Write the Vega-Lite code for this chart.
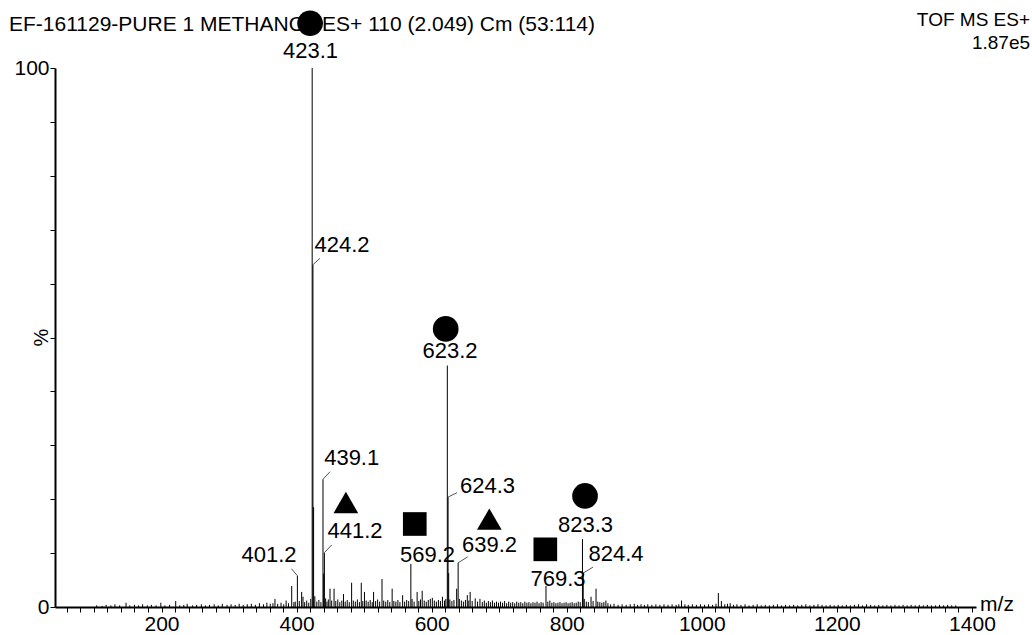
{
  "$schema": "https://vega.github.io/schema/vega-lite/v6.json",
  "width": 921,
  "height": 539,
  "autosize": {"type": "none"},
  "padding": {"left": 55, "top": 68, "right": 56, "bottom": 28},
  "background": "white",
  "config": {"view": {"stroke": null}, "font": "Liberation Sans"},
  "datasets": {
    "peaks": [
      {"x":104,"y":0.3},{"x":112,"y":0.2},{"x":118,"y":0.4},{"x":125,"y":0.3},{"x":131,"y":0.5},{"x":138,"y":0.3},{"x":147.5,"y":0.8},{"x":153,"y":0.3},{"x":160,"y":0.4},{"x":166,"y":0.3},{"x":172,"y":0.5},{"x":179,"y":0.3},{"x":185,"y":0.4},{"x":192,"y":0.3},{"x":199,"y":0.8},{"x":205,"y":0.3},{"x":212,"y":0.4},{"x":221,"y":1.1},{"x":227,"y":0.3},{"x":233,"y":0.4},{"x":238,"y":0.6},{"x":246,"y":0.3},{"x":252,"y":0.4},{"x":259,"y":0.5},{"x":265,"y":0.3},{"x":271,"y":0.4},{"x":278,"y":0.5},{"x":284,"y":0.3},{"x":290,"y":0.6},{"x":297,"y":0.4},{"x":303,"y":0.5},{"x":309,"y":0.4},{"x":315,"y":0.6},{"x":321,"y":0.4},{"x":327,"y":0.5},{"x":333,"y":0.6},{"x":339,"y":0.4},{"x":345,"y":0.7},{"x":351,"y":0.5},{"x":356,"y":0.8},{"x":361,"y":0.6},{"x":365,"y":0.7},
      {"x":368,"y":1.5},{"x":372,"y":0.6},{"x":377,"y":0.8},{"x":381,"y":0.5},{"x":384.5,"y":1.2},{"x":388,"y":0.7},{"x":392.8,"y":3.9},{"x":396,"y":0.9},{"x":398,"y":1.0},{"x":401.2,"y":5.8},{"x":404,"y":1.1},{"x":407.5,"y":2.8},{"x":409.5,"y":1.9},{"x":412,"y":0.9},{"x":415,"y":1.2},{"x":418,"y":0.8},{"x":421,"y":1.5},{"x":423.1,"y":100},{"x":424.2,"y":63.5},{"x":425.2,"y":18.5},{"x":427,"y":2.0},{"x":430,"y":1.0},{"x":433,"y":1.3},{"x":436,"y":0.9},{"x":439.1,"y":23.7},{"x":440.1,"y":6.2},{"x":441.2,"y":10.1},{"x":443,"y":1.6},{"x":445,"y":1.0},{"x":447,"y":1.4},{"x":449.5,"y":3.4},{"x":452,"y":1.2},{"x":455.5,"y":3.4},{"x":458,"y":1.1},{"x":461,"y":1.4},{"x":464,"y":0.9},{"x":467,"y":1.2},{"x":469.5,"y":2.4},{"x":472,"y":1.0},{"x":475,"y":1.3},{"x":478,"y":0.9},{"x":481.5,"y":4.5},{"x":484,"y":1.2},{"x":487,"y":1.0},{"x":490,"y":1.4},{"x":493,"y":0.9},{"x":495.8,"y":4.5},{"x":498,"y":1.1},{"x":500.5,"y":2.8},{"x":503,"y":1.2},{"x":506,"y":1.0},{"x":509,"y":1.3},{"x":512,"y":0.9},{"x":514,"y":2.8},{"x":517,"y":1.1},{"x":520,"y":1.4},{"x":523,"y":1.0},{"x":526.5,"y":5.2},{"x":529,"y":1.2},{"x":532,"y":1.0},{"x":535,"y":1.3},{"x":538,"y":0.9},{"x":541.5,"y":3.4},{"x":544,"y":1.1},{"x":547,"y":1.0},{"x":550,"y":1.3},{"x":553,"y":0.9},{"x":557,"y":2.2},{"x":560,"y":1.0},{"x":563,"y":1.3},{"x":566,"y":1.1},{"x":569.2,"y":8.0},{"x":571,"y":1.5},{"x":574,"y":1.0},{"x":578.5,"y":2.8},{"x":581,"y":1.1},{"x":583.5,"y":1.4},{"x":586,"y":3.0},{"x":589,"y":1.2},{"x":592,"y":1.0},{"x":595,"y":1.3},{"x":598,"y":1.5},{"x":601,"y":1.7},{"x":604,"y":1.2},{"x":607,"y":1.0},{"x":610,"y":1.3},{"x":613,"y":1.1},{"x":616,"y":1.9},{"x":619,"y":1.2},{"x":621,"y":1.5},{"x":623.2,"y":44.8},{"x":624.3,"y":20.4},{"x":625.2,"y":6.3},{"x":627,"y":1.4},{"x":630,"y":1.1},{"x":633,"y":1.3},{"x":637,"y":3.4},{"x":639.2,"y":8.2},{"x":641,"y":1.5},{"x":644,"y":1.2},{"x":647,"y":1.0},{"x":650,"y":1.3},{"x":652.8,"y":2.2},{"x":655,"y":1.2},{"x":657,"y":2.8},{"x":660,"y":1.1},{"x":664.5,"y":1.6},{"x":668,"y":1.0},{"x":671.5,"y":1.5},{"x":675,"y":0.9},{"x":678,"y":1.2},{"x":681,"y":0.8},{"x":684,"y":1.1},{"x":687,"y":0.9},{"x":690,"y":1.2},{"x":693,"y":0.8},{"x":696,"y":1.0},{"x":699,"y":0.8},
      {"x":702,"y":1.0},{"x":705,"y":0.8},{"x":708,"y":1.1},{"x":711,"y":0.7},{"x":714,"y":1.0},{"x":717,"y":0.8},{"x":720,"y":0.9},{"x":723,"y":0.7},{"x":726,"y":1.0},{"x":729,"y":0.8},{"x":732,"y":0.9},{"x":735,"y":0.7},{"x":738,"y":1.0},{"x":741,"y":0.8},{"x":744,"y":0.9},{"x":747,"y":0.7},{"x":750,"y":0.9},{"x":753,"y":0.8},{"x":756,"y":1.0},{"x":759,"y":0.7},{"x":762,"y":0.9},{"x":765,"y":0.8},{"x":769.3,"y":3.9},{"x":772,"y":1.0},{"x":775,"y":1.2},{"x":778,"y":0.8},{"x":781,"y":0.9},{"x":784,"y":0.7},{"x":787,"y":0.8},{"x":790,"y":0.9},{"x":793,"y":0.7},{"x":796,"y":0.8},{"x":799,"y":0.9},{"x":802,"y":0.7},{"x":805,"y":0.8},{"x":808,"y":0.9},{"x":811,"y":0.7},{"x":814,"y":0.8},{"x":817,"y":1.0},{"x":820,"y":0.9},{"x":823.3,"y":12.6},{"x":824.4,"y":6.3},{"x":826,"y":1.5},{"x":829,"y":1.0},{"x":832,"y":0.9},{"x":836,"y":1.9},{"x":839,"y":1.1},{"x":843.4,"y":3.4},{"x":846,"y":1.0},{"x":849,"y":0.9},{"x":852,"y":0.8},{"x":855,"y":0.9},{"x":858,"y":1.2},{"x":861,"y":0.7},
      {"x":865,"y":0.5},{"x":870,"y":0.6},{"x":876,"y":0.4},{"x":882,"y":0.5},{"x":888,"y":0.4},{"x":894,"y":0.5},{"x":900,"y":0.6},{"x":905,"y":0.4},{"x":910,"y":0.5},{"x":915,"y":0.4},{"x":920,"y":0.5},{"x":926,"y":0.4},{"x":932,"y":0.5},{"x":938,"y":0.4},{"x":944,"y":0.5},{"x":950,"y":0.4},{"x":956,"y":0.5},{"x":962,"y":0.4},{"x":966,"y":0.5},{"x":970,"y":1.2},{"x":975,"y":0.5},{"x":980,"y":0.4},{"x":986,"y":0.5},{"x":992,"y":0.4},{"x":998,"y":0.5},{"x":1004,"y":0.4},{"x":1010,"y":0.5},{"x":1016,"y":0.4},{"x":1021,"y":0.6},{"x":1024.5,"y":2.6},{"x":1029,"y":1.1},{"x":1034,"y":0.5},{"x":1038,"y":0.6},{"x":1042,"y":0.7},{"x":1047,"y":0.4},{"x":1052,"y":0.5},{"x":1058,"y":0.4},{"x":1064,"y":0.5},{"x":1070,"y":0.3},{"x":1076,"y":0.4},{"x":1082,"y":0.5},{"x":1088,"y":0.3},{"x":1094,"y":0.4},{"x":1100,"y":0.3},{"x":1106,"y":0.4},{"x":1112,"y":0.5},{"x":1118,"y":0.3},{"x":1124,"y":0.4},{"x":1130,"y":0.3},{"x":1136,"y":0.4},{"x":1142,"y":0.3},{"x":1148,"y":0.4},{"x":1154,"y":0.5},{"x":1160,"y":0.3},{"x":1166,"y":0.4},{"x":1172,"y":0.5},{"x":1178,"y":0.4},{"x":1184,"y":0.3},{"x":1190,"y":0.4},{"x":1196,"y":0.3},{"x":1202,"y":0.4},{"x":1208,"y":0.3},{"x":1214,"y":0.4},{"x":1220,"y":0.3},{"x":1226,"y":0.4},{"x":1232,"y":0.5},{"x":1238,"y":0.3},{"x":1244,"y":0.5},{"x":1250,"y":0.4},{"x":1256,"y":0.3},{"x":1262,"y":0.4},{"x":1268,"y":0.3},{"x":1274,"y":0.4},{"x":1280,"y":0.3},{"x":1286,"y":0.4},{"x":1292,"y":0.3},{"x":1298,"y":0.4},{"x":1304,"y":0.3},{"x":1310,"y":0.4},{"x":1316,"y":0.3},{"x":1322,"y":0.4},{"x":1328,"y":0.3},{"x":1334,"y":0.4},{"x":1340,"y":0.3},{"x":1346,"y":0.3},{"x":1352,"y":0.4},{"x":1358,"y":0.3},{"x":1364,"y":0.4},{"x":1370,"y":0.3},{"x":1376,"y":0.3}
    ],
    "labels": [
      {"t":"423.1","x":420.6,"y":103.1},
      {"t":"424.2","x":467.3,"y":67.2},
      {"t":"439.1","x":481.6,"y":27.6},
      {"t":"441.2","x":486.5,"y":14.1},
      {"t":"401.2","x":359.2,"y":9.6},
      {"t":"569.2","x":593.9,"y":9.6},
      {"t":"623.2","x":627.2,"y":47.5},
      {"t":"624.3","x":682.7,"y":22.4},
      {"t":"639.2","x":685.7,"y":11.5},
      {"t":"769.3","x":787.1,"y":5.2},
      {"t":"823.3","x":827.8,"y":15.2},
      {"t":"824.4","x":873.0,"y":9.9}
    ],
    "leaders": [
      {"x":424.2,"y":63.5,"x2":434.7,"y2":64.7},
      {"x":439.1,"y":23.7,"x2":449.5,"y2":25.1},
      {"x":441.2,"y":10.1,"x2":452.0,"y2":11.5},
      {"x":401.2,"y":5.8,"x2":392.4,"y2":7.1},
      {"x":624.3,"y":20.4,"x2":637.5,"y2":21.2},
      {"x":639.2,"y":8.2,"x2":653.4,"y2":9.3},
      {"x":824.4,"y":6.3,"x2":838.9,"y2":7.4}
    ],
    "markers": [
      {"ion":"circle","x":420.0,"y":108.3},
      {"ion":"circle","x":620.8,"y":51.6},
      {"ion":"circle","x":827.1,"y":20.6},
      {"ion":"triangle","x":473.0,"y":19.4},
      {"ion":"triangle","x":685.4,"y":16.3},
      {"ion":"square","x":575.0,"y":15.4},
      {"ion":"square","x":768.3,"y":10.7}
    ],
    "headLeft": [
      {"t":"EF-161129-PURE 1 METHANOL","x":-25.8,"y":106.9},
      {"t":"ES+ 110 (2.049) Cm (53:114)","x":437.7,"y":106.9}
    ],
    "headRight": [
      {"t":"TOF MS ES+","x":1486,"y":107.7},
      {"t":"1.87e5","x":1486,"y":103.6}
    ]
  },
  "encoding": {
    "x": {
      "field": "x", "type": "quantitative",
      "scale": {"domain": [42.3, 1406], "nice": false, "zero": false},
      "axis": {
        "title": null, "grid": false,
        "values": [60,80,100,120,140,160,180,200,220,240,260,280,300,320,340,360,380,400,420,440,460,480,500,520,540,560,580,600,620,640,660,680,700,720,740,760,780,800,820,840,860,880,900,920,940,960,980,1000,1020,1040,1060,1080,1100,1120,1140,1160,1180,1200,1220,1240,1260,1280,1300,1320,1340,1360,1380,1400],
        "format": "d",
        "labelExpr": "datum.value % 200 === 0 ? datum.label : ''",
        "tickSize": 5, "tickColor": "black", "tickWidth": 1,
        "domainColor": "black", "domainWidth": 2,
        "labelFontSize": 21, "labelColor": "black", "labelFont": "Liberation Sans",
        "labelPadding": 1, "labelFlush": false, "labelOverlap": false
      }
    },
    "y": {
      "field": "y", "type": "quantitative",
      "scale": {"domain": [0, 100], "nice": false, "zero": true},
      "axis": {
        "title": null, "grid": false,
        "values": [0,10,20,30,40,50,60,70,80,90,100],
        "labelExpr": "datum.value === 0 || datum.value === 100 ? datum.label : ''",
        "tickSize": 5, "tickColor": "black", "tickWidth": 1,
        "domainColor": "black", "domainWidth": 2,
        "labelFontSize": 21, "labelColor": "black", "labelFont": "Liberation Sans",
        "labelPadding": 1, "labelOverlap": false
      }
    }
  },
  "layer": [
    {
      "data": {"name": "peaks"},
      "mark": {"type": "rule", "color": "black", "strokeWidth": 1},
      "encoding": {"y2": {"datum": 0}}
    },
    {
      "data": {"name": "leaders"},
      "mark": {"type": "rule", "color": "#555555", "strokeWidth": 1},
      "encoding": {"x2": {"field": "x2"}, "y2": {"field": "y2"}}
    },
    {
      "data": {"name": "labels"},
      "mark": {"type": "text", "fontSize": 22, "color": "black", "align": "center", "baseline": "middle", "font": "Liberation Sans"},
      "encoding": {"text": {"field": "t"}}
    },
    {
      "data": {"name": "headLeft"},
      "mark": {"type": "text", "fontSize": 21, "color": "black", "align": "left", "baseline": "alphabetic", "font": "Liberation Sans"},
      "encoding": {"text": {"field": "t"}}
    },
    {
      "data": {"name": "headRight"},
      "mark": {"type": "text", "fontSize": 19, "color": "black", "align": "right", "baseline": "alphabetic", "font": "Liberation Sans"},
      "encoding": {"text": {"field": "t"}}
    },
    {
      "data": {"values": [{"t": "m/z", "x": 1412, "y": 0.4}]},
      "mark": {"type": "text", "fontSize": 21, "color": "black", "align": "left", "baseline": "middle", "font": "Liberation Sans"},
      "encoding": {"text": {"field": "t"}}
    },
    {
      "data": {"values": [{"t": "%", "x": 23, "y": 50}]},
      "mark": {"type": "text", "fontSize": 20, "color": "black", "align": "center", "baseline": "middle", "angle": 270, "font": "Liberation Sans"},
      "encoding": {"text": {"field": "t"}}
    },
    {
      "data": {"name": "markers"},
      "mark": {"type": "point", "filled": true, "color": "black", "opacity": 1, "strokeWidth": 0},
      "encoding": {
        "shape": {"field": "ion", "type": "nominal", "scale": {"domain": ["circle", "triangle", "square"], "range": ["circle", "triangle-up", "square"]}, "legend": null},
        "size": {"field": "ion", "type": "ordinal", "scale": {"domain": ["circle", "triangle", "square"], "range": [660, 560, 484]}, "legend": null}
      }
    }
  ]
}
